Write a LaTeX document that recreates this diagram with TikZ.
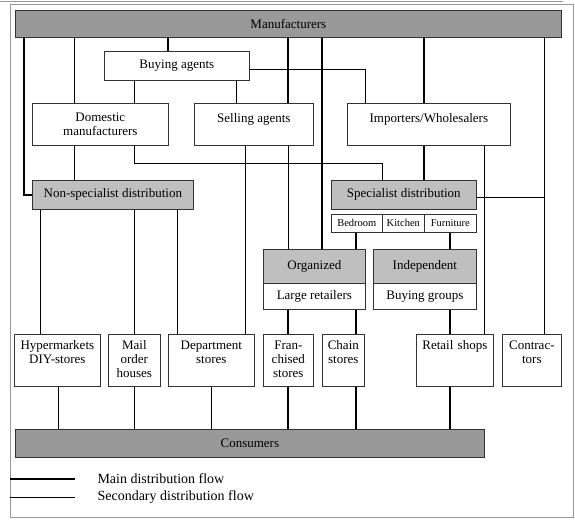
\documentclass[tikz,border=0pt]{standalone}
\usepackage{fontspec}
\setmainfont{Liberation Serif}
\tikzset{
  box/.style={draw=black!80, line width=0.7pt, anchor=north west, inner sep=1pt,
    align=center, font=\fontsize{13}{14}\selectfont},
  dark/.style={box, fill=black!40},
  light/.style={box, fill=black!25},
  small/.style={box, font=\fontsize{10.5}{12}\selectfont},
  cell/.style={box, inner xsep=0pt, inner ysep=3pt, text width=#1,
    text height=12pt, text depth=34pt},
  main/.style={line width=1.6pt},
  minor/.style={line width=0.7pt},
  legend/.style={anchor=west, font=\fontsize{14}{16}\selectfont},
}
\begin{document}
\begin{tikzpicture}[x=1pt, y=-1pt]
\useasboundingbox (0,0) rectangle (575,520);
\draw[black!40, line width=0.8pt] (10,4) rectangle (573,517);
\draw[black!40, line width=0.8pt] (0,1) -- (563,1);
% top rows
\node[dark, minimum width=546pt, minimum height=27pt] (manu) at (15,10) {Manufacturers};
\node[box, minimum width=145pt, minimum height=29pt] (buy) at (104,51) {Buying agents};
\node[box, minimum width=136pt, minimum height=42pt] (dom) at (32,103) {Domestic\\manufacturers};
\node[box, minimum width=119pt, minimum height=42pt, text depth=12pt] (sell) at (194,103) {Selling agents};
\node[box, minimum width=163pt, minimum height=42pt, text depth=12pt] (imp) at (347,103) {Importers/Wholesalers};
% distribution
\node[light, minimum width=161pt, minimum height=29pt] (nonspec) at (32,180) {Non-specialist distribution};
\node[light, minimum width=145pt, minimum height=29pt] (spec) at (331,180) {Specialist distribution};
\node[small, minimum width=51pt, minimum height=18pt] (bed) at (331,214) {Bedroom};
\node[small, minimum width=42pt, minimum height=18pt] (kit) at (382,214) {Kitchen};
\node[small, minimum width=52pt, minimum height=18pt] (fur) at (424,214) {Furniture};
\node[light, minimum width=102pt, minimum height=34pt] (orgT) at (263,249) {Organized};
\node[box, minimum width=102pt, minimum height=26pt] (orgB) at (263,283) {Large retailers};
\node[light, minimum width=103pt, minimum height=34pt] (indT) at (373,249) {Independent};
\node[box, minimum width=103pt, minimum height=26pt] (indB) at (373,283) {Buying groups};
% outlets
\node[cell=86pt] (hyper) at (14,334) {Hypermarkets\\DIY-stores};
\node[cell=52pt] (mail) at (108,334) {Mail\\order\\houses};
\node[cell=86pt] (dept) at (168,334) {Department\\stores};
\node[cell=50pt] (fran) at (263,334) {Fran-\\chised\\stores};
\node[cell=42pt] (chain) at (322,334) {Chain\\stores};
\node[cell=77pt] (retail) at (416,334) {Retail shops};
\node[cell=59pt] (contr) at (502,334) {Contrac-\\tors};
\node[dark, minimum width=469pt, minimum height=28pt] (cons) at (15,429) {Consumers};

% main flow
\draw[main] (manu.south -| 24,0) |- (nonspec.west);
\draw[main] (manu.south -| 168,0) -- (buy.north -| 168,0);
\draw[main] (manu.south -| 288,0) -- (sell.north -| 288,0);
\draw[main] (manu.south -| 322,0) -- (orgT.north -| 322,0);
\draw[main] (manu.south -| 424,0) -- (imp.north -| 424,0);
\draw[main] (imp.south -| 424,0) -- (spec.north -| 424,0);
\draw[main] (bed.south -| 356,0) -- (orgT.north -| 356,0);
\draw[main] (fur.south -| 450,0) -- (indT.north -| 450,0);
\draw[main] (orgB.south -| 288,0) -- (fran.north -| 288,0);
\draw[main] (orgB.south -| 356,0) -- (chain.north -| 356,0);
\draw[main] (indB.south -| 450,0) -- (retail.north -| 450,0);
\draw[main] (fran.south -| 288,0) -- (cons.north -| 288,0);
\draw[main] (chain.south -| 356,0) -- (cons.north -| 356,0);
\draw[main] (retail.south -| 450,0) -- (cons.north -| 450,0);

% secondary flow
\draw[minor] (manu.south -| 74,0) -- (dom.north -| 74,0);
\draw[minor] (buy.south -| 134,0) -- (dom.north -| 134,0);
\draw[minor] (buy.south -| 236,0) -- (sell.north -| 236,0);
\draw[minor] ([yshift=-3pt]buy.east) -| (imp.north -| 365,0);
\draw[minor] (dom.south -| 74,0) -- (nonspec.north -| 74,0);
\draw[minor] (dom.south -| 134,0) -- ++(0,18) -| (spec.north -| 382,0);
\draw[minor] (sell.south -| 245,0) -- (dept.north -| 245,0);
\draw[minor] (sell.south -| 288,0) -- (orgT.north -| 288,0);
\draw[minor] (imp.south -| 484,0) -- (retail.north -| 484,0);
\draw[minor] (manu.south -| 544,0) -- (contr.north -| 544,0);
\draw[minor] ([yshift=-2pt]spec.east) -- ([yshift=-2pt]spec.east -| 544,0);
\draw[minor] (nonspec.south -| 40,0) -- (hyper.north -| 40,0);
\draw[minor] (nonspec.south -| 134,0) -- (mail.north -| 134,0);
\draw[minor] (nonspec.south -| 177,0) -- (dept.north -| 177,0);
\draw[minor] (hyper.south -| 58,0) -- (cons.north -| 58,0);
\draw[minor] (mail.south -| 134,0) -- (cons.north -| 134,0);
\draw[minor] (dept.south -| 211,0) -- (cons.north -| 211,0);

% legend
\draw[main] (10,479) -- (75,479);
\node[legend] (lmain) at (94,479) {Main distribution flow};
\draw[minor] (10,497) -- (75,497);
\node[legend] (lsec) at (94,497) {Secondary distribution flow};
\end{tikzpicture}
\end{document}
